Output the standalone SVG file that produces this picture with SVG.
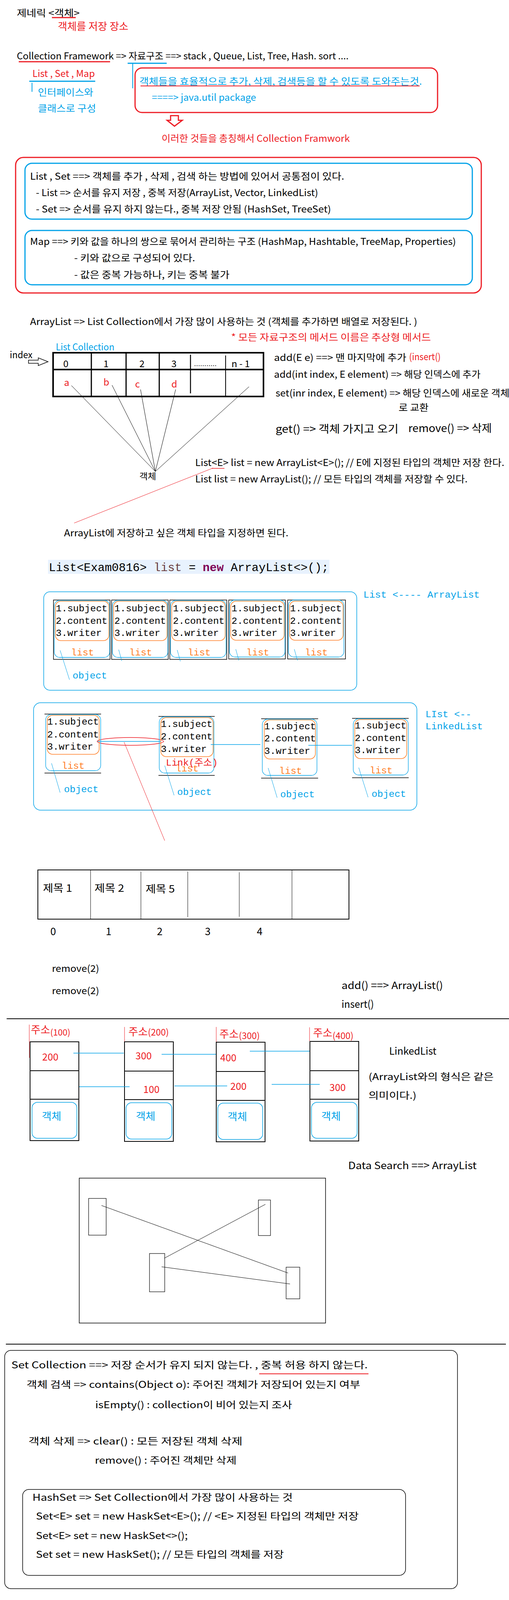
<svg xmlns="http://www.w3.org/2000/svg" width="1304" height="4632" viewBox="0 0 1304 4632">
<style>
text{font-family:'Noto Sans CJK KR','Noto Sans',sans-serif;font-size:24px;fill:#000}
.m{font-family:'Liberation Mono','Noto Sans CJK KR',monospace;font-size:24.5px}
.r{fill:#ED1C24}.b{fill:#00A2E8}.o{fill:#FF7F27}
.sr{stroke:#ED1C24;fill:none}.sb{stroke:#00A2E8;fill:none}.sk{stroke:#000;fill:none}.so{stroke:#FF7F27;fill:none}
</style>
<rect width="1304" height="4632" fill="#fff"/>

<g id="title">
<text x="43" y="42" textLength="161" lengthAdjust="spacingAndGlyphs">제네릭 &lt;객체&gt;</text>
<line class="sr" x1="133" y1="45" x2="194" y2="45" stroke-width="3"/>
<text class="r" x="148" y="77" style="font-size:26px" textLength="181" lengthAdjust="spacingAndGlyphs">객체를 저장 장소</text>
</g>

<g id="collection-framework">
<text x="43" y="152" textLength="850" lengthAdjust="spacingAndGlyphs">Collection Framework =&gt; 자료구조 ==&gt; stack , Queue, List, Tree, Hash. sort ....</text>
<line class="sr" x1="48" y1="158" x2="282" y2="158" stroke-width="3"/>
<line class="sb" x1="327" y1="162" x2="427" y2="162" stroke-width="3"/>
<line class="sb" x1="340" y1="163" x2="340" y2="226" stroke-width="2"/>
</g>

<g id="list-set-map">
<text class="r" x="83" y="197" textLength="160" lengthAdjust="spacingAndGlyphs">List , Set , Map</text>
<line class="sb" x1="75" y1="208" x2="244" y2="208" stroke-width="3"/>
<line class="sb" x1="82" y1="212" x2="82" y2="235" stroke-width="2"/>
<text class="b" x="97" y="245" textLength="142" lengthAdjust="spacingAndGlyphs">인터페이스와</text>
<text class="b" x="97" y="286" textLength="149" lengthAdjust="spacingAndGlyphs">클래스로 구성</text>
</g>

<g id="util-box">
<rect class="sr" x="346" y="174" width="775" height="114" rx="18" stroke-width="3"/>
<text class="b" x="357" y="217" textLength="724" lengthAdjust="spacingAndGlyphs">객체들을 효율적으로 추가, 삭제, 검색등을 할 수 있도록 도와주는것.</text>
<line class="sr" x1="360" y1="220" x2="1075" y2="220" stroke-width="2"/>
<text class="b" x="389" y="258" textLength="267" lengthAdjust="spacingAndGlyphs">====&gt; java.util package</text>
</g>

<g id="down-arrow">
<polygon class="sr" points="437,296 457,296 457,308 467,308 447,323 428,308 437,308" stroke-width="3" fill="#fff"/>
<text class="r" x="414" y="363" textLength="482" lengthAdjust="spacingAndGlyphs">이러한 것들을 총칭해서 Collection Framwork</text>
</g>

<g id="list-set-map-box">
<rect class="sr" x="40" y="403" width="1193" height="347" rx="20" stroke-width="3"/>
<rect class="sb" x="64" y="418" width="1146" height="143" rx="18" stroke-width="3"/>
<text x="77" y="460" textLength="805" lengthAdjust="spacingAndGlyphs">List , Set ==&gt; 객체를 추가 , 삭제 , 검색 하는 방법에 있어서 공통점이 있다.</text>
<text x="92" y="502" textLength="723" lengthAdjust="spacingAndGlyphs">- List =&gt; 순서를 유지 저장 , 중복 저장(ArrayList, Vector, LinkedList)</text>
<text x="92" y="544" textLength="756" lengthAdjust="spacingAndGlyphs">- Set =&gt; 순서를 유지 하지 않는다., 중복 저장 안됨 (HashSet, TreeSet)</text>
<rect class="sb" x="64" y="590" width="1146" height="139" rx="18" stroke-width="3"/>
<text x="77" y="627" textLength="1091" lengthAdjust="spacingAndGlyphs">Map ==&gt; 키와 값을 하나의 쌍으로 묶어서 관리하는 구조 (HashMap, Hashtable, TreeMap, Properties)</text>
<text x="190" y="669" textLength="310" lengthAdjust="spacingAndGlyphs">- 키와 값으로 구성되어 있다.</text>
<text x="190" y="712" textLength="398" lengthAdjust="spacingAndGlyphs">- 값은 중복 가능하나, 키는 중복 불가</text>
</g>

<g id="arraylist-desc">
<text x="77" y="832" textLength="992" lengthAdjust="spacingAndGlyphs">ArrayList =&gt; List Collection에서  가장 많이 사용하는 것 (객체를 추가하면 배열로 저장된다. )</text>
<text class="r" x="592" y="872" textLength="512" lengthAdjust="spacingAndGlyphs">* 모든 자료구조의 메서드 이름은 추상형 메서드</text>
</g>

<g id="array-table">
<text class="b" x="143" y="897" textLength="150" lengthAdjust="spacingAndGlyphs">List Collection</text>
<text x="25" y="917" textLength="58" lengthAdjust="spacingAndGlyphs">index</text>
<polygon class="sk" points="73,922 98,922 98,916 123,926 98,936 98,930 73,930" stroke-width="1.5" fill="#fff"/>
<rect class="sk" x="136" y="903" width="539" height="112" stroke-width="4"/>
<line class="sk" x1="134" y1="946" x2="675" y2="946" stroke-width="4"/>
<line class="sk" x1="234" y1="903" x2="234" y2="1015" stroke-width="3"/>
<line class="sk" x1="323" y1="903" x2="323" y2="1015" stroke-width="3"/>
<line class="sk" x1="408" y1="903" x2="408" y2="1015" stroke-width="3"/>
<line class="sk" x1="488" y1="908" x2="488" y2="1007" stroke-width="2.5"/>
<line class="sk" x1="578" y1="910" x2="578" y2="1015" stroke-width="2"/>
<text x="162" y="940">0</text>
<text x="265" y="940">1</text>
<text x="357" y="940">2</text>
<text x="439" y="940">3</text>
<text x="497" y="937" style="font-size:12px" textLength="58" lengthAdjust="spacingAndGlyphs">...........</text>
<text x="593" y="940">n - 1</text>
<text class="r" x="164" y="988">a</text>
<text class="r" x="265" y="987">b</text>
<text class="r" x="346" y="992">c</text>
<text class="r" x="439" y="992">d</text>
<text x="357" y="1227" style="font-size:22px" textLength="43" lengthAdjust="spacingAndGlyphs">객체</text>
</g>

<g id="array-methods">
<text x="702" y="924" textLength="339" lengthAdjust="spacingAndGlyphs">add(E e) ==&gt; 맨 마지막에 추가</text>
<text class="r" x="1048" y="922" textLength="81" lengthAdjust="spacingAndGlyphs">(insert()</text>
<text x="702" y="967" textLength="529" lengthAdjust="spacingAndGlyphs">add(int index, E element) =&gt; 해당 인덱스에 추가</text>
<text x="706" y="1015" textLength="599" lengthAdjust="spacingAndGlyphs">set(inr index, E element) =&gt; 해당 인덱스에 새로운 객체</text>
<text x="1021" y="1052" textLength="77" lengthAdjust="spacingAndGlyphs">로 교환</text>
<text x="706" y="1108" style="font-size:27px" textLength="315" lengthAdjust="spacingAndGlyphs">get() =&gt; 객체 가지고 오기</text>
<text x="1046" y="1106" style="font-size:27px" textLength="214" lengthAdjust="spacingAndGlyphs">remove() =&gt; 삭제</text>
</g>

<g id="generic-decl">
<text x="500" y="1193" textLength="792" lengthAdjust="spacingAndGlyphs">List&lt;E&gt; list = new ArrayList&lt;E&gt;(); // E에 지정된 타입의 객체만 저장 한다.</text>
<line class="sr" x1="542" y1="1199" x2="575" y2="1199" stroke-width="1.5"/>
<text x="500" y="1235" textLength="698" lengthAdjust="spacingAndGlyphs">List list = new ArrayList(); //  모든 타입의 객체를 저장할 수 있다.</text>
<text x="164" y="1373" textLength="575" lengthAdjust="spacingAndGlyphs">ArrayList에 저장하고 싶은 객체 타입을 지정하면 된다.</text>
</g>

<g id="code-line">
<rect x="123" y="1433" width="721" height="36" fill="#E8F2FE"/>
<text class="m" x="125" y="1462" style="font-size:30px" textLength="717" lengthAdjust="spacingAndGlyphs">List&lt;Exam0816&gt; <tspan fill="#6A3E3E">list</tspan> = <tspan fill="#7F0055" font-weight="bold">new</tspan> ArrayList&lt;&gt;();</text>
</g>

<g id="arraylist-box">
<rect class="sb" x="112" y="1515" width="802" height="252" rx="16" stroke-width="1.5"/>
<text class="m b" x="931" y="1530" textLength="298" lengthAdjust="spacingAndGlyphs">List &lt;---- ArrayList</text>
<text class="m b" x="186" y="1737">object</text>
</g>

<g id="al-node-1">
<rect class="sk" x="137" y="1536" width="145" height="152" stroke-width="1.5"/>
<rect class="sb" x="139" y="1537" width="142" height="146" rx="14" stroke-width="1.3"/>
<rect class="so" x="142" y="1539" width="137" height="101" rx="14" stroke-width="1.5"/>
<text class="m" x="143" y="1565">1.subject</text><text class="m" x="143" y="1597">2.content</text><text class="m" x="143" y="1628">3.writer</text>
<text class="m o" x="182" y="1678">list</text>
</g>
<g id="al-node-2">
<rect class="sk" x="286" y="1536" width="145" height="152" stroke-width="1.5"/>
<rect class="sb" x="288" y="1537" width="142" height="146" rx="14" stroke-width="1.3"/>
<rect class="so" x="291" y="1539" width="137" height="101" rx="14" stroke-width="1.5"/>
<text class="m" x="293" y="1565">1.subject</text><text class="m" x="293" y="1597">2.content</text><text class="m" x="293" y="1628">3.writer</text>
<text class="m o" x="331" y="1678">list</text>
</g>
<g id="al-node-3">
<rect class="sk" x="435" y="1536" width="146" height="152" stroke-width="1.5"/>
<rect class="sb" x="437" y="1537" width="142" height="146" rx="14" stroke-width="1.3"/>
<rect class="so" x="440" y="1539" width="137" height="101" rx="14" stroke-width="1.5"/>
<text class="m" x="443" y="1565">1.subject</text><text class="m" x="443" y="1597">2.content</text><text class="m" x="443" y="1628">3.writer</text>
<text class="m o" x="481" y="1678">list</text>
</g>
<g id="al-node-4">
<rect class="sk" x="586" y="1536" width="145" height="151" stroke-width="1.5"/>
<rect class="sb" x="588" y="1536" width="142" height="146" rx="14" stroke-width="1.3"/>
<rect class="so" x="591" y="1539" width="137" height="100" rx="14" stroke-width="1.5"/>
<text class="m" x="593" y="1565">1.subject</text><text class="m" x="593" y="1597">2.content</text><text class="m" x="593" y="1628">3.writer</text>
<text class="m o" x="631" y="1678">list</text>
</g>
<g id="al-node-5">
<rect class="sk" x="737" y="1536" width="148" height="151" stroke-width="1.5"/>
<rect class="sb" x="739" y="1536" width="142" height="146" rx="14" stroke-width="1.3"/>
<rect class="so" x="742" y="1539" width="137" height="100" rx="14" stroke-width="1.5"/>
<text class="m" x="743" y="1565">1.subject</text><text class="m" x="743" y="1597">2.content</text><text class="m" x="743" y="1628">3.writer</text>
<text class="m o" x="781" y="1678">list</text>
</g>

<g id="linkedlist-box">
<rect class="sb" x="86" y="1799" width="982" height="275" rx="18" stroke-width="1.5"/>
<text class="m b" x="1090" y="1836">LIst &lt;--</text>
<text class="m b" x="1090" y="1867">LinkedList</text>
<ellipse class="sr" cx="334" cy="1898" rx="85" ry="10" stroke-width="1.5"/>
</g>

<g id="ll-node-1">
<line class="sk" x1="114" y1="1828" x2="259" y2="1828" stroke-width="1.5"/>
<rect class="sb" x="117" y="1829" width="141" height="144" rx="14" stroke-width="1.3"/>
<rect class="so" x="121" y="1831" width="133" height="100" rx="14" stroke-width="1.5"/>
<text class="m" x="121" y="1855">1.subject</text><text class="m" x="121" y="1888">2.content</text><text class="m" x="121" y="1919">3.writer</text>
<text class="m o" x="158" y="1968">list</text>
<line class="sk" x1="114" y1="1979" x2="259" y2="1979" stroke-width="1.5"/>
<text class="m b" x="164" y="2028">object</text>
</g>
<g id="ll-node-2">
<line class="sk" x1="406" y1="1834" x2="550" y2="1834" stroke-width="1.5"/>
<rect class="sb" x="408" y="1835" width="140" height="144" rx="14" stroke-width="1.3"/>
<rect class="so" x="412" y="1837" width="134" height="100" rx="14" stroke-width="1.5"/>
<text class="m" x="412" y="1861">1.subject</text><text class="m" x="412" y="1893">2.content</text><text class="m" x="412" y="1925">3.writer</text>
<text class="m o" x="450" y="1975">list</text>
<text class="m r" x="425" y="1960" style="font-size:24px" textLength="133" lengthAdjust="spacingAndGlyphs">Link(주소)</text>
<line class="sk" x1="406" y1="1985" x2="550" y2="1985" stroke-width="1.5"/>
<text class="m b" x="454" y="2035">object</text>
</g>
<g id="ll-node-3">
<line class="sk" x1="669" y1="1840" x2="815" y2="1840" stroke-width="1.5"/>
<rect class="sb" x="672" y="1841" width="140" height="144" rx="14" stroke-width="1.3"/>
<rect class="so" x="677" y="1843" width="131" height="100" rx="14" stroke-width="1.5"/>
<text class="m" x="677" y="1867">1.subject</text><text class="m" x="677" y="1898">2.content</text><text class="m" x="677" y="1930">3.writer</text>
<text class="m o" x="715" y="1981">list</text>
<line class="sk" x1="669" y1="1992" x2="815" y2="1992" stroke-width="1.5"/>
<text class="m b" x="718" y="2041">object</text>
</g>
<g id="ll-node-4">
<line class="sk" x1="902" y1="1839" x2="1047" y2="1839" stroke-width="1.5"/>
<rect class="sb" x="905" y="1840" width="141" height="144" rx="14" stroke-width="1.3"/>
<rect class="so" x="909" y="1842" width="133" height="100" rx="14" stroke-width="1.5"/>
<text class="m" x="909" y="1865">1.subject</text><text class="m" x="909" y="1897">2.content</text><text class="m" x="909" y="1928">3.writer</text>
<text class="m o" x="947" y="1980">list</text>
<line class="sk" x1="902" y1="1991" x2="1047" y2="1991" stroke-width="1.5"/>
<text class="m b" x="952" y="2040">object</text>
</g>

<g id="title-table">
<rect class="sk" x="97" y="2227" width="797" height="126" stroke-width="2"/>
<line class="sk" x1="232" y1="2227" x2="232" y2="2353" stroke-width="1"/>
<line class="sk" x1="361" y1="2231" x2="361" y2="2352" stroke-width="1"/>
<line class="sk" x1="481" y1="2231" x2="481" y2="2348" stroke-width="1"/>
<line class="sk" x1="613" y1="2233" x2="613" y2="2347" stroke-width="1"/>
<line class="sk" x1="748" y1="2227" x2="748" y2="2353" stroke-width="1"/>
<text x="110" y="2283" style="font-size:26px" textLength="75" lengthAdjust="spacingAndGlyphs">제목 1</text>
<text x="242" y="2283" style="font-size:26px" textLength="76" lengthAdjust="spacingAndGlyphs">제목 2</text>
<text x="373" y="2285" style="font-size:26px" textLength="75" lengthAdjust="spacingAndGlyphs">제목 5</text>
<text x="129" y="2394" style="font-size:26px">0</text>
<text x="271" y="2394" style="font-size:26px">1</text>
<text x="402" y="2394" style="font-size:26px">2</text>
<text x="525" y="2394" style="font-size:26px">3</text>
<text x="658" y="2394" style="font-size:26px">4</text>
<text x="133" y="2488" textLength="121" lengthAdjust="spacingAndGlyphs">remove(2)</text>
<text x="133" y="2545" textLength="121" lengthAdjust="spacingAndGlyphs">remove(2)</text>
<text x="875" y="2532" style="font-size:26px" textLength="260" lengthAdjust="spacingAndGlyphs">add() ==&gt; ArrayList()</text>
<text x="875" y="2580" style="font-size:26px" textLength="83" lengthAdjust="spacingAndGlyphs">insert()</text>
</g>

<line id="separator-1" class="sk" x1="17" y1="2608" x2="1304" y2="2608" stroke-width="2"/>

<g id="addr-node-100">
<line class="sr" x1="75" y1="2623" x2="75" y2="2708" stroke-width="1"/>
<text class="r" x="79" y="2646" style="font-size:27px">주소<tspan dy="5" style="font-size:22px">(100)</tspan></text>
<rect class="sk" x="77" y="2667" width="125" height="253" stroke-width="2"/>
<line class="sk" x1="77" y1="2741" x2="202" y2="2741" stroke-width="2"/>
<line class="sk" x1="77" y1="2814" x2="202" y2="2814" stroke-width="2"/>
<text class="r" x="108" y="2715" style="font-size:25px">200</text>
<rect class="sb" x="82" y="2822" width="115" height="92" rx="14" stroke-width="1.5"/>
<text class="b" x="107" y="2867" style="font-size:26px" textLength="50" lengthAdjust="spacingAndGlyphs">객체</text>
</g>
<g id="addr-node-200">
<line class="sr" x1="319" y1="2629" x2="319" y2="2703" stroke-width="1"/>
<text class="r" x="329" y="2651" style="font-size:27px">주소<tspan style="font-size:23px">(200)</tspan></text>
<rect class="sk" x="319" y="2667" width="125" height="255" stroke-width="2"/>
<line class="sk" x1="319" y1="2742" x2="444" y2="2742" stroke-width="2"/>
<line class="sk" x1="319" y1="2815" x2="444" y2="2815" stroke-width="2"/>
<text class="r" x="347" y="2712" style="font-size:25px">300</text>
<text class="r" x="367" y="2798" style="font-size:25px">100</text>
<rect class="sb" x="323" y="2823" width="117" height="93" rx="14" stroke-width="1.5"/>
<text class="b" x="348" y="2867" style="font-size:26px" textLength="50" lengthAdjust="spacingAndGlyphs">객체</text>
</g>
<g id="addr-node-300">
<line class="sr" x1="554" y1="2629" x2="554" y2="2703" stroke-width="1"/>
<text class="r" x="562" y="2657" style="font-size:27px">주소<tspan dy="3" style="font-size:23px">(300)</tspan></text>
<rect class="sk" x="554" y="2668" width="125" height="255" stroke-width="2"/>
<line class="sk" x1="554" y1="2743" x2="679" y2="2743" stroke-width="2"/>
<line class="sk" x1="554" y1="2817" x2="679" y2="2817" stroke-width="2"/>
<text class="r" x="564" y="2717" style="font-size:25px">400</text>
<text class="r" x="590" y="2790" style="font-size:25px">200</text>
<rect class="sb" x="558" y="2824" width="115" height="93" rx="14" stroke-width="1.5"/>
<text class="b" x="583" y="2868" style="font-size:26px" textLength="50" lengthAdjust="spacingAndGlyphs">객체</text>
</g>
<g id="addr-node-400">
<line class="sr" x1="793" y1="2630" x2="793" y2="2665" stroke-width="1"/>
<text class="r" x="802" y="2654" style="font-size:27px">주소<tspan dy="6" style="font-size:23px">(400)</tspan></text>
<rect class="sk" x="794" y="2666" width="125" height="255" stroke-width="2"/>
<line class="sk" x1="794" y1="2741" x2="919" y2="2741" stroke-width="2"/>
<line class="sk" x1="794" y1="2814" x2="919" y2="2814" stroke-width="2"/>
<text class="r" x="844" y="2793" style="font-size:25px">300</text>
<rect class="sb" x="798" y="2822" width="117" height="92" rx="14" stroke-width="1.5"/>
<text class="b" x="823" y="2867" style="font-size:26px" textLength="50" lengthAdjust="spacingAndGlyphs">객체</text>
</g>

<g id="linkedlist-note">
<text x="997" y="2700" style="font-size:26px" textLength="121" lengthAdjust="spacingAndGlyphs">LinkedList</text>
<text x="944" y="2765" textLength="321" lengthAdjust="spacingAndGlyphs">(ArrayList와의 형식은 같은</text>
<text x="944" y="2813" textLength="123" lengthAdjust="spacingAndGlyphs">의미이다.)</text>
</g>

<g id="data-search">
<text x="892" y="2993" style="font-size:26px" textLength="329" lengthAdjust="spacingAndGlyphs">Data Search ==&gt; ArrayList</text>
<rect class="sk" x="203" y="3016" width="631" height="371" stroke-width="1.5"/>
<rect class="sk" x="227" y="3068" width="45" height="94" stroke-width="1.2"/>
<rect class="sk" x="662" y="3072" width="31" height="91" stroke-width="1.2"/>
<rect class="sk" x="383" y="3209" width="39" height="98" stroke-width="1.2"/>
<rect class="sk" x="733" y="3244" width="35" height="81" stroke-width="1.2"/>
</g>

<line id="separator-2" class="sk" x1="15" y1="3441" x2="1296" y2="3441" stroke-width="2"/>

<g id="set-collection">
<rect class="sk" x="12" y="3457" width="1160" height="610" rx="16" stroke-width="1.5"/>
<text x="29" y="3503" textLength="913" lengthAdjust="spacingAndGlyphs">Set Collection ==&gt; 저장 순서가 유지 되지 않는다. , 중복 허용 하지 않는다.</text>
<line class="sr" x1="664" y1="3517" x2="944" y2="3517" stroke-width="2"/>
<text x="68" y="3553" textLength="855" lengthAdjust="spacingAndGlyphs">객체 검색 =&gt; contains(Object o): 주어진 객체가 저장되어 있는지 여부</text>
<text x="244" y="3605" textLength="504" lengthAdjust="spacingAndGlyphs">isEmpty()  : collection이 비어 있는지 조사</text>
<text x="73" y="3698" textLength="548" lengthAdjust="spacingAndGlyphs">객체 삭제 =&gt; clear()  : 모든 저장된 객체 삭제</text>
<text x="243" y="3747" textLength="363" lengthAdjust="spacingAndGlyphs">remove() : 주어진 객체만 삭제</text>
</g>

<g id="hashset">
<rect class="sk" x="58" y="3813" width="981" height="220" rx="16" stroke-width="1.5"/>
<text x="83" y="3842" textLength="667" lengthAdjust="spacingAndGlyphs">HashSet =&gt;  Set Collection에서 가장 많이 사용하는 것</text>
<text x="92" y="3890" textLength="827" lengthAdjust="spacingAndGlyphs">Set&lt;E&gt; set = new HaskSet&lt;E&gt;(); // &lt;E&gt; 지정된 타입의 객체만 저장</text>
<text x="92" y="3940" textLength="389" lengthAdjust="spacingAndGlyphs">Set&lt;E&gt; set = new HaskSet&lt;&gt;();</text>
<text x="92" y="3988" textLength="635" lengthAdjust="spacingAndGlyphs">Set set = new HaskSet(); // 모든 타입의 객체를 저장</text>
</g>

<g id="hashset-note">
<rect class="sr" x="17" y="4132" width="1146" height="246" rx="16" stroke-width="1.5"/>
<text class="r" x="40" y="4172" textLength="583" lengthAdjust="spacingAndGlyphs">HashSet은 동일한 객체는 중복 저장하지 않는다.</text>
<text class="r" x="48" y="4222" textLength="1045" lengthAdjust="spacingAndGlyphs">HashSet은 다른 객체라도 hashCode() 메서드의 리턴 값이 같고, equals() 메속드가 true</text>
<text class="r" x="40" y="4270" textLength="702" lengthAdjust="spacingAndGlyphs">를 반환하면 동일한 객체라 판단=하여 중복 저장하지 않음</text>
</g>

<g id="connectors">
<g class="sk" stroke-width="1">
<line x1="183" y1="987" x2="398" y2="1207"/>
<line x1="287" y1="986" x2="398" y2="1207"/>
<line x1="360" y1="997" x2="398" y2="1207"/>
<line x1="450" y1="997" x2="398" y2="1207"/>
<line x1="638" y1="990" x2="398" y2="1207"/>
</g>
<line class="sr" x1="546" y1="1198" x2="190" y2="1339" stroke-width="1"/>
<g class="sb" stroke-width="1">
<line x1="154" y1="1665" x2="178" y2="1740"/>
<line x1="304" y1="1663" x2="312" y2="1692"/>
<line x1="454" y1="1664" x2="462" y2="1693"/>
<line x1="604" y1="1662" x2="612" y2="1691"/>
<line x1="754" y1="1662" x2="762" y2="1691"/>
<line x1="132" y1="1954" x2="154" y2="2029"/>
<line x1="422" y1="1960" x2="446" y2="2036"/>
<line x1="687" y1="1966" x2="710" y2="2042"/>
<line x1="919" y1="1965" x2="943" y2="2041"/>
</g>
<g class="sb" stroke-width="1.5">
<line x1="250" y1="1898" x2="412" y2="1898"/>
<line x1="540" y1="1906" x2="667" y2="1906"/>
<line x1="790" y1="1908" x2="902" y2="1908"/>
</g>
<line class="sr" x1="318" y1="1900" x2="422" y2="2152" stroke-width="1"/>
<g class="sb" stroke-width="1.5">
<line x1="188" y1="2696" x2="317" y2="2696"/>
<line x1="414" y1="2699" x2="553" y2="2699"/>
<line x1="640" y1="2691" x2="793" y2="2691"/>
<line x1="203" y1="2782" x2="332" y2="2782"/>
<line x1="447" y1="2780" x2="582" y2="2780"/>
<line x1="696" y1="2776" x2="819" y2="2776"/>
</g>
<g class="sk" stroke-width="1">
<line x1="260" y1="3086" x2="738" y2="3259"/>
<line x1="680" y1="3083" x2="421" y2="3221"/>
<line x1="414" y1="3243" x2="743" y2="3287"/>
</g>
</g>
</svg>
